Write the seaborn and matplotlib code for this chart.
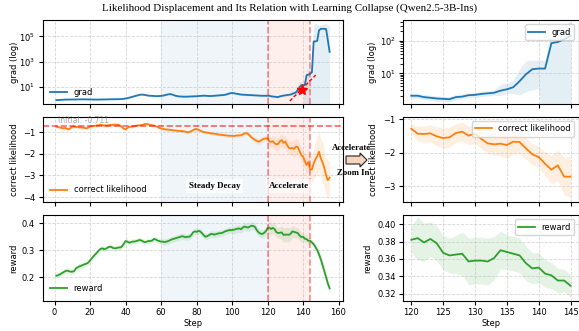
import numpy as np
import matplotlib
matplotlib.use("Agg")
import matplotlib.pyplot as plt
import matplotlib.patches as mpatches
import seaborn as sns

# ---------------- data ----------------
steps = list(range(1, 156))

grad = [0.90, 0.92, 0.94, 0.96, 0.98, 1.00, 1.00, 1.01, 1.02, 1.02,
        1.02, 1.03, 1.03, 1.04, 1.04, 1.05, 1.05, 1.04, 1.03, 1.02,
        1.02, 1.01, 1.00, 1.00, 1.00, 1.01, 1.02, 1.03, 1.04, 1.05,
        1.05, 1.05, 1.06, 1.06, 1.07, 1.08, 1.08, 1.10, 1.15, 1.22,
        1.30, 1.40, 1.55, 1.70, 1.85, 2.00, 2.20, 2.40, 2.50, 2.45,
        2.30, 2.15, 2.05, 2.00, 1.95, 1.90, 1.88, 1.88, 1.90, 1.95,
        2.05, 2.20, 2.40, 2.60, 2.70, 2.60, 2.30, 2.05, 1.90, 1.80,
        1.75, 1.72, 1.70, 1.70, 1.72, 1.74, 1.75, 1.78, 1.80, 1.85,
        1.90, 1.95, 2.00, 2.05, 2.00, 1.95, 1.92, 1.90, 1.95, 2.00,
        2.05, 2.10, 2.15, 2.20, 2.30, 2.40, 2.60, 2.90, 3.20, 3.30,
        3.20, 3.00, 2.80, 2.60, 2.50, 2.45, 2.40, 2.35, 2.30, 2.30,
        2.25, 2.20, 2.15, 2.10, 2.05, 2.00, 2.00, 2.00, 2.00, 2.02,
        2.02, 1.83, 1.75, 1.66, 1.62, 1.58, 1.83, 1.90, 2.10, 2.15,
        2.30, 2.40, 2.50, 2.90, 3.20, 3.70, 5.70, 9.30, 13.4, 14.0,
        14.0, 86.0, 93.0, 113.0, 144.0, 4.0e4, 4.0e4, 4.5e4, 3.0e5, 4.0e5,
        4.0e5, 4.0e5, 3.8e5, 5.0e4, 6.0e3]

# band extent above / below the mean, in decades
grad_up = [0.04, 0.04, 0.04, 0.04, 0.04, 0.04, 0.04, 0.04, 0.04, 0.04,
           0.04, 0.04, 0.04, 0.04, 0.04, 0.04, 0.04, 0.04, 0.04, 0.04,
           0.04, 0.04, 0.04, 0.04, 0.04, 0.04, 0.04, 0.04, 0.04, 0.04,
           0.04, 0.04, 0.04, 0.04, 0.04, 0.04, 0.04, 0.04, 0.04, 0.04,
           0.07, 0.07, 0.07, 0.07, 0.07, 0.07, 0.07, 0.07, 0.07, 0.07,
           0.07, 0.07, 0.07, 0.07, 0.07, 0.07, 0.07, 0.07, 0.07, 0.07,
           0.06, 0.06, 0.06, 0.06, 0.06, 0.06, 0.06, 0.06, 0.06, 0.06,
           0.06, 0.06, 0.06, 0.06, 0.06, 0.06, 0.06, 0.06, 0.06, 0.06,
           0.06, 0.06, 0.06, 0.06, 0.06, 0.06, 0.06, 0.06, 0.06, 0.06,
           0.06, 0.06, 0.06, 0.06, 0.06, 0.06, 0.06, 0.06, 0.06, 0.06,
           0.07, 0.07, 0.07, 0.07, 0.07, 0.07, 0.07, 0.07, 0.07, 0.07,
           0.07, 0.07, 0.07, 0.07, 0.07, 0.07, 0.07, 0.07, 0.07, 0.07,
           0.08, 0.08, 0.08, 0.08, 0.08, 0.08, 0.08, 0.08, 0.08, 0.08,
           0.08, 0.08, 0.08, 0.20, 0.18, 0.22, 0.37, 0.42, 0.28, 0.26,
           0.26, 0.45, 0.45, 0.45, 0.45, 1.40, 1.40, 1.30, 0.40, 0.35,
           0.35, 0.40, 0.45, 1.20, 2.10]
grad_dn = [0.04, 0.04, 0.04, 0.04, 0.04, 0.04, 0.04, 0.04, 0.04, 0.04,
           0.04, 0.04, 0.04, 0.04, 0.04, 0.04, 0.04, 0.04, 0.04, 0.04,
           0.04, 0.04, 0.04, 0.04, 0.04, 0.04, 0.04, 0.04, 0.04, 0.04,
           0.04, 0.04, 0.04, 0.04, 0.04, 0.04, 0.04, 0.04, 0.04, 0.04,
           0.07, 0.07, 0.07, 0.07, 0.07, 0.07, 0.07, 0.07, 0.07, 0.07,
           0.07, 0.07, 0.07, 0.07, 0.07, 0.07, 0.07, 0.07, 0.07, 0.07,
           0.06, 0.06, 0.06, 0.06, 0.06, 0.06, 0.06, 0.06, 0.06, 0.06,
           0.06, 0.06, 0.06, 0.06, 0.06, 0.06, 0.06, 0.06, 0.06, 0.06,
           0.06, 0.06, 0.06, 0.06, 0.06, 0.06, 0.06, 0.06, 0.06, 0.06,
           0.06, 0.06, 0.06, 0.06, 0.06, 0.06, 0.06, 0.06, 0.06, 0.06,
           0.07, 0.07, 0.07, 0.07, 0.07, 0.07, 0.07, 0.07, 0.07, 0.07,
           0.07, 0.07, 0.07, 0.07, 0.07, 0.07, 0.07, 0.07, 0.07, 0.07,
           0.08, 0.08, 0.08, 0.08, 0.08, 0.08, 0.08, 0.08, 0.08, 0.08,
           0.08, 0.08, 0.08, 0.15, 0.12, 0.20, 0.42, 0.53, 0.64, 0.60,
           3.00, 4.00, 4.00, 4.00, 4.00, 8.00, 8.00, 8.00, 8.00, 8.00,
           8.00, 8.00, 8.00, 8.00, 8.00]

lik = [-0.74, -0.76, -0.78, -0.80, -0.82, -0.80, -0.84, -0.86, -0.80, -0.74,
       -0.74, -0.76, -0.75, -0.78, -0.77, -0.79, -0.80, -0.82, -0.78, -0.74,
       -0.72, -0.71, -0.70, -0.68, -0.66, -0.65, -0.67, -0.69, -0.68, -0.68,
       -0.66, -0.66, -0.65, -0.64, -0.66, -0.65, -0.70, -0.76, -0.84, -0.86,
       -0.80, -0.76, -0.74, -0.74, -0.72, -0.70, -0.68, -0.68, -0.66, -0.64,
       -0.62, -0.62, -0.64, -0.66, -0.68, -0.69, -0.72, -0.76, -0.80, -0.82,
       -0.84, -0.86, -0.87, -0.88, -0.89, -0.90, -0.91, -0.92, -0.93, -0.94,
       -0.94, -0.95, -0.96, -0.98, -1.00, -0.98, -0.95, -0.90, -0.86, -0.85,
       -0.88, -0.92, -0.96, -0.99, -1.00, -1.02, -1.03, -1.05, -1.06, -1.07,
       -1.08, -1.10, -1.11, -1.12, -1.13, -1.14, -1.15, -1.16, -1.16, -1.17,
       -1.17, -1.16, -1.15, -1.15, -1.14, -1.10, -1.06, -1.04, -1.08, -1.16,
       -1.24, -1.30, -1.36, -1.40, -1.44, -1.40, -1.34, -1.30, -1.29, -1.28,
       -1.43, -1.44, -1.42, -1.51, -1.56, -1.54, -1.41, -1.37, -1.49, -1.43,
       -1.59, -1.72, -1.75, -1.73, -1.77, -1.67, -1.68, -1.87, -2.05, -2.13,
       -2.33, -2.51, -2.38, -2.72, -2.72, -2.45, -2.25, -2.10, -1.90, -2.20,
       -2.40, -2.65, -3.00, -3.22, -3.10]
lik_sd = [0.07, 0.07, 0.07, 0.07, 0.07, 0.07, 0.07, 0.07, 0.07, 0.07,
          0.07, 0.07, 0.07, 0.07, 0.07, 0.07, 0.07, 0.07, 0.07, 0.07,
          0.07, 0.07, 0.07, 0.07, 0.07, 0.07, 0.07, 0.07, 0.07, 0.07,
          0.07, 0.07, 0.07, 0.07, 0.07, 0.07, 0.07, 0.07, 0.07, 0.07,
          0.06, 0.06, 0.06, 0.06, 0.06, 0.06, 0.06, 0.06, 0.06, 0.06,
          0.06, 0.06, 0.06, 0.06, 0.06, 0.06, 0.06, 0.06, 0.06, 0.06,
          0.07, 0.07, 0.07, 0.07, 0.07, 0.07, 0.07, 0.07, 0.07, 0.07,
          0.07, 0.07, 0.07, 0.07, 0.07, 0.07, 0.07, 0.07, 0.07, 0.07,
          0.07, 0.07, 0.07, 0.07, 0.07, 0.07, 0.07, 0.07, 0.07, 0.07,
          0.07, 0.07, 0.07, 0.07, 0.07, 0.07, 0.07, 0.07, 0.07, 0.07,
          0.10, 0.10, 0.10, 0.10, 0.10, 0.10, 0.10, 0.10, 0.10, 0.10,
          0.14, 0.14, 0.14, 0.14, 0.14, 0.14, 0.14, 0.14, 0.14, 0.14,
          0.22, 0.24, 0.26, 0.28, 0.30, 0.30, 0.28, 0.28, 0.28, 0.28,
          0.28, 0.30, 0.32, 0.36, 0.40, 0.38, 0.34, 0.32, 0.31, 0.31,
          0.36, 0.42, 0.46, 0.55, 0.62, 0.70, 0.80, 0.90, 0.90, 0.90,
          0.90, 0.90, 0.90, 0.85, 0.80]

rew = [0.205, 0.207, 0.210, 0.214, 0.218, 0.222, 0.224, 0.222, 0.220, 0.220,
       0.222, 0.232, 0.236, 0.240, 0.242, 0.245, 0.248, 0.250, 0.254, 0.262,
       0.270, 0.278, 0.285, 0.292, 0.300, 0.305, 0.307, 0.303, 0.306, 0.310,
       0.313, 0.312, 0.308, 0.307, 0.308, 0.310, 0.310, 0.314, 0.324, 0.334,
       0.332, 0.328, 0.330, 0.332, 0.332, 0.334, 0.336, 0.338, 0.336, 0.332,
       0.330, 0.332, 0.334, 0.334, 0.336, 0.342, 0.340, 0.336, 0.334, 0.332,
       0.332, 0.330, 0.332, 0.334, 0.337, 0.340, 0.342, 0.344, 0.346, 0.348,
       0.350, 0.352, 0.350, 0.348, 0.350, 0.350, 0.356, 0.366, 0.370, 0.368,
       0.372, 0.370, 0.364, 0.356, 0.350, 0.352, 0.356, 0.360, 0.360, 0.358,
       0.360, 0.362, 0.363, 0.364, 0.366, 0.370, 0.372, 0.374, 0.375, 0.375,
       0.376, 0.378, 0.380, 0.381, 0.378, 0.384, 0.388, 0.386, 0.384, 0.388,
       0.391, 0.390, 0.386, 0.374, 0.366, 0.362, 0.360, 0.364, 0.370, 0.382,
       0.384, 0.379, 0.383, 0.378, 0.367, 0.364, 0.365, 0.366, 0.357, 0.358,
       0.358, 0.357, 0.361, 0.370, 0.368, 0.366, 0.364, 0.355, 0.349, 0.350,
       0.343, 0.341, 0.335, 0.335, 0.329, 0.322, 0.312, 0.300, 0.285, 0.266,
       0.245, 0.222, 0.198, 0.176, 0.158]
rew_sd = [0.010, 0.010, 0.010, 0.010, 0.010, 0.010, 0.010, 0.010, 0.010, 0.010,
          0.010, 0.010, 0.010, 0.010, 0.010, 0.010, 0.010, 0.010, 0.010, 0.010,
          0.010, 0.010, 0.010, 0.010, 0.010, 0.010, 0.010, 0.010, 0.010, 0.010,
          0.010, 0.010, 0.010, 0.010, 0.010, 0.010, 0.010, 0.010, 0.010, 0.010,
          0.010, 0.010, 0.010, 0.010, 0.010, 0.010, 0.010, 0.010, 0.010, 0.010,
          0.010, 0.010, 0.010, 0.010, 0.010, 0.010, 0.010, 0.010, 0.010, 0.010,
          0.012, 0.012, 0.012, 0.012, 0.012, 0.012, 0.012, 0.012, 0.012, 0.012,
          0.012, 0.012, 0.012, 0.012, 0.012, 0.012, 0.012, 0.012, 0.012, 0.012,
          0.012, 0.012, 0.012, 0.012, 0.012, 0.012, 0.012, 0.012, 0.012, 0.012,
          0.012, 0.012, 0.012, 0.012, 0.012, 0.012, 0.012, 0.012, 0.012, 0.012,
          0.015, 0.015, 0.015, 0.015, 0.015, 0.015, 0.015, 0.015, 0.015, 0.015,
          0.015, 0.015, 0.015, 0.015, 0.015, 0.015, 0.015, 0.015, 0.015, 0.015,
          0.025, 0.022, 0.020, 0.020, 0.020, 0.020, 0.022, 0.025, 0.027, 0.027,
          0.027, 0.027, 0.025, 0.022, 0.020, 0.020, 0.020, 0.020, 0.018, 0.017,
          0.016, 0.015, 0.014, 0.013, 0.013, 0.014, 0.015, 0.016, 0.018, 0.020,
          0.020, 0.020, 0.020, 0.018, 0.016]

phase_steady = (60, 120)
phase_accel = (120, 144)
zoom_range = (120, 145)
initial_lik = -0.711
star_step, star_grad = [139.5], [5.8]
tangent_steps, tangent_grad = [132.6, 147.2], [0.78, 89.0]

# ---------------- style ----------------
plt.rcParams.update({
    "font.size": 6,
    "axes.labelsize": 6,
    "xtick.labelsize": 6,
    "ytick.labelsize": 6,
    "legend.fontsize": 6,
    "axes.linewidth": 0.8,
    "xtick.major.size": 3,
    "ytick.major.size": 3,
    "xtick.major.pad": 2.5,
    "ytick.major.pad": 2.5,
})
C_BLUE, C_ORANGE, C_GREEN = "#1f77b4", "#ff7f0e", "#2ca02c"

fig = plt.figure(figsize=(5.79, 3.31), dpi=100)
W, H = 579.0, 331.0


def add_ax(x0, x1, y0, y1, sharex=None):
    return fig.add_axes([x0 / W, 1 - y1 / H, (x1 - x0) / W, (y1 - y0) / H], sharex=sharex)


rows = [(20, 104), (116.7, 202), (215, 300.7)]
L = [add_ax(42.7, 343.3, *rows[0])]
L.append(add_ax(42.7, 343.3, *rows[1], sharex=L[0]))
L.append(add_ax(42.7, 343.3, *rows[2], sharex=L[0]))
R = [add_ax(403.3, 578.5, *rows[0])]
R.append(add_ax(403.3, 578.5, *rows[1], sharex=R[0]))
R.append(add_ax(403.3, 578.5, *rows[2], sharex=R[0]))

s = np.array(steps)
g = np.array(grad)
g_hi = g * 10 ** np.array(grad_up)
g_lo = np.clip(g / 10 ** np.array(grad_dn), 1e-6, None)
lk = np.array(lik)
lsd = np.array(lik_sd)
rw = np.array(rew)
rsd = np.array(rew_sd)

series = [
    ("grad", g, g_lo, g_hi, C_BLUE, "grad (log)"),
    ("correct likelihood", lk, lk - lsd, lk + lsd, C_ORANGE, "correct likelihood"),
    ("reward", rw, rw - rsd, rw + rsd, C_GREEN, "reward"),
]

for axes, mask in ((L, np.ones_like(s, dtype=bool)), (R, (s >= zoom_range[0]) & (s <= zoom_range[1]))):
    for ax, (name, y, lo, hi, col, ylab) in zip(axes, series):
        if name == "grad":
            ax.set_yscale("log")
        ax.fill_between(s[mask], lo[mask], hi[mask], color=col, alpha=0.12, lw=0)
        sns.lineplot(x=s[mask], y=y[mask], ax=ax, color=col, lw=1.3, label=name)
        ax.grid(True, ls="--", lw=0.6, alpha=0.5)
        ax.set_ylabel(ylab)
        ax.set_xlabel("")

# phases on left column
for ax in L:
    ax.axvspan(*phase_steady, color=C_BLUE, alpha=0.07, lw=0, zorder=0)
    ax.axvspan(*phase_accel, color="#fa8072", alpha=0.13, lw=0, zorder=0)
    for xv in phase_accel:
        ax.axvline(xv, color="red", ls="--", lw=1.2, alpha=0.45)

# limits & ticks
L[0].set_ylim(10 ** -0.35, 10 ** 6.3)
L[0].set_yticks([1e1, 1e3, 1e5])
L[1].set_ylim(-4.23, -0.28)
L[1].set_yticks([-1, -2, -3, -4])
L[2].set_ylim(0.112, 0.431)
L[2].set_yticks([0.2, 0.3, 0.4])
L[0].set_xticks([0, 20, 40, 60, 80, 100, 120, 140, 160])
R[0].set_ylim(10 ** 0.05, 10 ** 2.65)
R[1].set_ylim(-3.48, -0.92)
R[1].set_yticks([-1, -2, -3])
R[2].set_ylim(0.3117, 0.4107)
R[2].set_yticks([0.32, 0.34, 0.36, 0.38, 0.40])
R[2].yaxis.set_major_formatter(matplotlib.ticker.FormatStrFormatter("%.2f"))
R[0].set_xticks([120, 125, 130, 135, 140, 145])

for col in (L, R):
    for ax in col[:2]:
        ax.tick_params(labelbottom=False)
    col[2].set_xlabel("Step", labelpad=1.5)

# legends
for ax in L:
    ax.legend(loc="lower left", frameon=False)
for ax in R:
    ax.legend(loc="upper right")

for ax in L:
    ax.yaxis.set_label_coords(-0.08, 0.5)
for ax, xc in zip(R, (-0.15, -0.144, -0.179)):
    ax.yaxis.set_label_coords(xc, 0.5)

# initial line
L[1].axhline(initial_lik, color="red", ls="--", lw=1.2, alpha=0.6)
L[1].text(2, initial_lik + 0.05, f"Initial: {initial_lik}", color="gray", alpha=0.7,
          fontsize=5.5, va="bottom", ha="left")

# phase labels
for xt, txt in ((90, "Steady Decay"), (132, "Accelerate")):
    L[1].text(xt, -3.5, txt, ha="center", va="center", fontsize=6.5, fontweight="bold",
              family="Liberation Serif",
              bbox=dict(facecolor="white", edgecolor="none", alpha=0.7, pad=2))

# star + tangent
L[0].plot(tangent_steps, tangent_grad, color="red", ls=(0, (2.5, 1.5)), lw=1.0)
L[0].plot(star_step, star_grad, marker="*", color="red", ms=8, ls="none")

# zoom arrow + labels
fig.text(351 / W, 1 - 148 / H, "Accelerate", ha="center", va="center", fontsize=6.3,
         fontweight="bold", family="Liberation Serif")
fig.text(353 / W, 1 - 173 / H, "Zoom In", ha="center", va="center", fontsize=6.3,
         fontweight="bold", family="Liberation Serif")
arrow = mpatches.FancyArrow(346 / W, 1 - 160 / H, 14 / W, 0, width=8 / H, head_width=14 / H,
                            head_length=7 / W, length_includes_head=False,
                            transform=fig.transFigure, facecolor="#f8d3bd",
                            edgecolor="#222222", lw=0.8)
fig.patches.append(arrow)

fig.text(0.5, 1 - 8 / H,
         "Likelihood Displacement and Its Relation with Learning Collapse (Qwen2.5-3B-Ins)",
         ha="center", va="center", fontsize=7.9, family="Liberation Serif")

fig.savefig("out.png", dpi=100)
